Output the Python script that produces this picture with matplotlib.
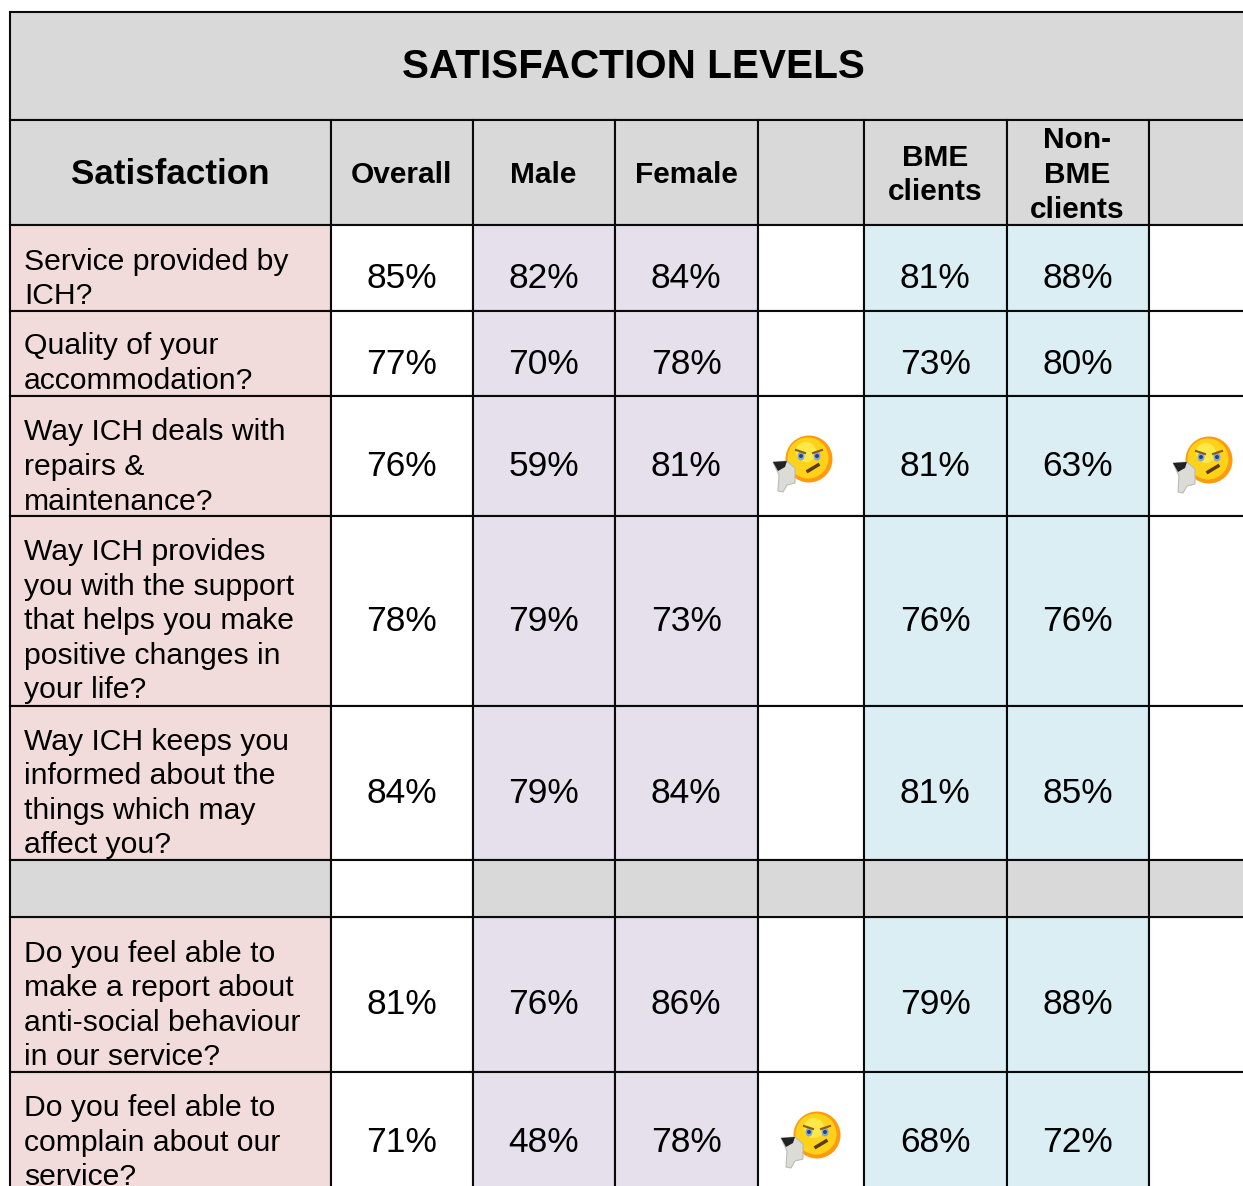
import matplotlib
matplotlib.use('Agg')
import matplotlib.pyplot as plt
from matplotlib.patches import Rectangle, Circle, Polygon, Ellipse

plt.rcParams['font.family'] = ['Liberation Sans', 'DejaVu Sans']

title = 'SATISFACTION LEVELS'
headers = ['Satisfaction', 'Overall', 'Male', 'Female', '', 'BME\nclients', 'Non-\nBME\nclients', '']
questions = [
    'Service provided by\nICH?',
    'Quality of your\naccommodation?',
    'Way ICH deals with\nrepairs &\nmaintenance?',
    'Way ICH provides\nyou with the support\nthat helps you make\npositive changes in\nyour life?',
    'Way ICH keeps you\ninformed about the\nthings which may\naffect you?',
    'Do you feel able to\nmake a report about\nanti-social behaviour\nin our service?',
    'Do you feel able to\ncomplain about our\nservice?',
]
overall = [85, 77, 76, 78, 84, 81, 71]
male = [82, 70, 59, 79, 79, 76, 48]
female = [84, 78, 81, 73, 84, 86, 78]
bme = [81, 73, 81, 76, 81, 79, 68]
non_bme = [88, 80, 63, 76, 85, 88, 72]

# layout in pixels
col_x = [10, 331, 473, 615, 758, 864, 1007, 1149, 1290]
title_y = [12, 120]
head_y = [120, 225]
row_y = [(225, 311), (311, 396), (396, 516), (516, 706), (706, 860), (917, 1072), (1072, 1192)]
spacer_y = (860, 917)
first_base = [269.5, 354.5, 440.5, 560, 749.5, 961.5, 1116]
line_h = 34.6

GREY = '#d9d9d9'
PINK = '#f2dcdb'
LILAC = '#e5e0ec'
BLUE = '#dbeef4'
WHITE = '#ffffff'
col_colors = [PINK, WHITE, LILAC, LILAC, WHITE, BLUE, BLUE, WHITE]
LW = 1.5
INK = '#0a0a0a'

fig = plt.figure(figsize=(12.43, 11.86), dpi=100)
ax = fig.add_axes([0, 0, 1, 1])
ax.set_xlim(0, 1243)
ax.set_ylim(1186, 0)
ax.axis('off')


def cell(x0, x1, y0, y1, color):
    ax.add_patch(Rectangle((x0, y0), x1 - x0, y1 - y0, facecolor=color,
                           edgecolor=INK, linewidth=LW))


def emoji(cx, cy):
    # thumb
    ax.add_patch(Polygon([[cx-36, cy+3], [cx-22, cy+2], [cx-14, cy+9], [cx-14, cy+24],
                          [cx-22, cy+26], [cx-26, cy+33], [cx-31, cy+32], [cx-30, cy+16]],
                         facecolor='#dcdcd6', edgecolor='#bcbcb4', linewidth=0.8, zorder=5))
    ax.add_patch(Polygon([[cx-36, cy+3], [cx-22, cy+2], [cx-24, cy+8], [cx-31, cy+12]],
                         facecolor='#222222', edgecolor='none', zorder=5))
    # face
    ax.add_patch(Circle((cx, cy), 23.5, facecolor='#ff9a10', edgecolor='none', zorder=4))
    ax.add_patch(Circle((cx-1, cy-1), 20.5, facecolor='#ffd21a', edgecolor='none', zorder=4))
    ax.add_patch(Circle((cx-3, cy-7), 10, facecolor='#ffe94a', edgecolor='none', zorder=4))
    for dx in (-8, 8):
        ax.add_patch(Ellipse((cx+dx, cy-3), 7, 9, facecolor='#7fa8d8', edgecolor='none', zorder=6))
        ax.add_patch(Circle((cx+dx, cy-3), 2, facecolor='#2a3f80', zorder=6))
    ax.plot([cx-13, cx-4], [cy-9, cy-6], color='#8a5a10', lw=1.5, zorder=7)
    ax.plot([cx+13, cx+4], [cy-9, cy-6], color='#8a5a10', lw=1.5, zorder=7)
    ax.plot([cx-1, cx+9], [cy+12, cy+6], color='#5a3a10', lw=2.5, zorder=7)


# title band
cell(col_x[0], col_x[-1], title_y[0], title_y[1], GREY)
ax.text(633, 67.5, title, fontsize=29.2, fontweight='bold', ha='center', va='center', color='black')

# header row
for i, h in enumerate(headers):
    cell(col_x[i], col_x[i+1], head_y[0], head_y[1], GREY)
    if i == 0:
        ax.text(170, 175, h, fontsize=25.2, fontweight='bold', ha='center', va='center')
    elif h:
        ax.text((col_x[i] + col_x[i+1]) / 2 - 0.5, 175, h, fontsize=21.5, fontweight='bold',
                ha='center', va='center', linespacing=1.31)

# data rows
columns = [None, overall, None, None, None, None, None, None]
columns[2] = male
columns[3] = female
columns[5] = bme
columns[6] = non_bme
for r, (y0, y1) in enumerate(row_y):
    for c in range(8):
        cell(col_x[c], col_x[c+1], y0, y1, col_colors[c])
        if columns[c] is not None:
            ax.text((col_x[c] + col_x[c+1]) / 2 - 0.3, (y0 + y1) / 2 + 20 if r < 6 else 1152.5,
                    '%d%%' % columns[c][r], fontsize=25.5, ha='center', va='baseline', color='black')
    for k, line in enumerate(questions[r].split('\n')):
        ax.text(24, first_base[r] + k * line_h, line, fontsize=21.7, ha='left', va='baseline',
                color='black', clip_on=True)

# spacer row
for c in range(8):
    cell(col_x[c], col_x[c+1], spacer_y[0], spacer_y[1], WHITE if c == 1 else GREY)

emoji(809, 459)
emoji(1209, 460)
emoji(817, 1135)

fig.savefig('out.png', dpi=100, facecolor='white')
